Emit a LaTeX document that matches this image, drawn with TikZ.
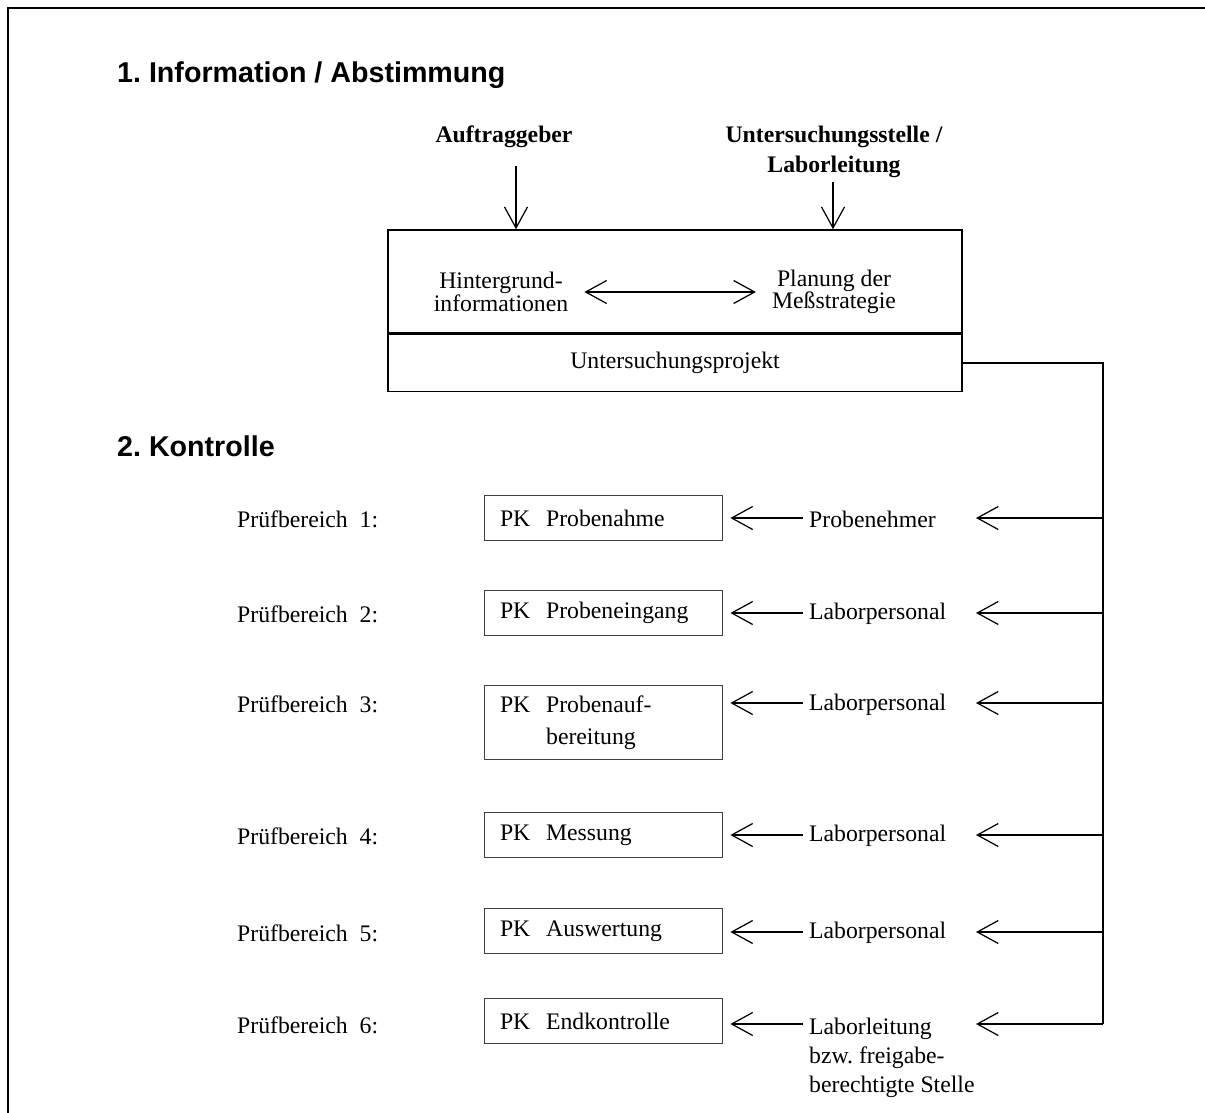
\documentclass[tikz,border=0pt]{standalone}
\usepackage{fontspec}
\setmainfont{Liberation Serif}
\setsansfont{Liberation Sans}
\usetikzlibrary{positioning,arrows.meta}
\frenchspacing

\begin{document}
\begin{tikzpicture}[
  x=0.02cm, y=-0.02cm,
  >={Straight Barb[length=0.42cm, width=0.46cm]},
  every node/.style={font=\fontsize{13.5}{16}\selectfont},
  heading/.style={
    anchor=west,
    font=\sffamily\bfseries\fontsize{16.3}{19}\selectfont
  },
  party/.style={
    align=center,
    font=\bfseries\fontsize{13.5}{17}\selectfont
  },
  bigbox/.style={
    draw,
    line width=0.9pt,
    minimum width=11.48cm
  },
  pkbox/.style={
    draw=black!75,
    line width=0.5pt,
    anchor=north,
    minimum width=4.76cm,
    text width=4.12cm,
    inner xsep=0.32cm,
    align=left,
    font=\fontsize{13.5}{18}\selectfont
  },
  area/.style={anchor=west},
  staff/.style={
    anchor=west,
    align=left,
    font=\fontsize{13.5}{16.5}\selectfont
  },
  arrow/.style={->, line width=0.7pt},
  wire/.style={line width=0.8pt},
  frame/.style={line width=1.2pt}
]
\useasboundingbox (0,0) rectangle (1205,1113);

% Outer frame
\draw[frame] (8,1113) |- (1205,8);

% Headings
\node[heading] (sec1) at (111,75) {1. Information / Abstimmung};
\node[heading] (sec2) at (111,446) {2. Kontrolle};

% Part 1: parties and project box
\node[party] (client) at (504,137) {Auftraggeber};
\node[party] (lab) at (834,152) {Untersuchungsstelle /\\Laborleitung};

\node[bigbox, minimum height=2.06cm] (plan) at (675,281.5) {};
\node[bigbox, minimum height=1.14cm, below=0pt of plan] (project) {Untersuchungsprojekt};

\node[align=center, font=\fontsize{13.5}{12.8}\selectfont] (background) at (501,292) {Hintergrund-\\informationen};
\node[align=center, font=\fontsize{13.5}{12.8}\selectfont] (strategy) at (834,292) {Planung der\\Meßstrategie};
\draw[arrow, <->, shorten <=0.2cm, shorten >=0.2cm] (background) -- (strategy);

\coordinate (in1) at (516,166);
\coordinate (in2) at (833,182);
\draw[arrow] (in1) -- (in1 |- plan.north);
\draw[arrow] (in2) -- (in2 |- plan.north);

% Part 2: test areas
\foreach \i/\y/\ytop/\h/\wy/\pk/\who in {
  1/518/495/0.9cm/519/{Probenahme}/{Probenehmer},
  2/613/590/0.9cm/614/{Probeneingang}/{Laborpersonal},
  3/703/685/1.48cm/705/{Probenauf-\\\hphantom{PK\ \ }bereitung}/{Laborpersonal},
  4/835/812/0.9cm/836/{Messung}/{Laborpersonal},
  5/932/908/0.9cm/933/{Auswertung}/{Laborpersonal},
  6/1024/998/0.9cm/1058/{Endkontrolle}/{Laborleitung\\bzw. freigabe-\\berechtigte Stelle}}{
  \coordinate (bus\i) at (1103,\y);
  \coordinate (tip\i) at (976,\y);
  \node[area] (area\i) at (231,\y+1) {Prüfbereich\ \ \i:};
  \node[pkbox, minimum height=\h] (box\i) at (603,\ytop) {PK\ \ \pk};
  \node[staff] (staff\i) at (803,\wy) {\who};
  \draw[arrow, shorten >=0.16cm] (staff\i.west |- bus\i) -- (box\i.east |- bus\i);
  \draw[arrow] (bus\i) -- (tip\i);
}
\draw[wire] (project.east) -| (bus6);

\end{tikzpicture}
\end{document}
